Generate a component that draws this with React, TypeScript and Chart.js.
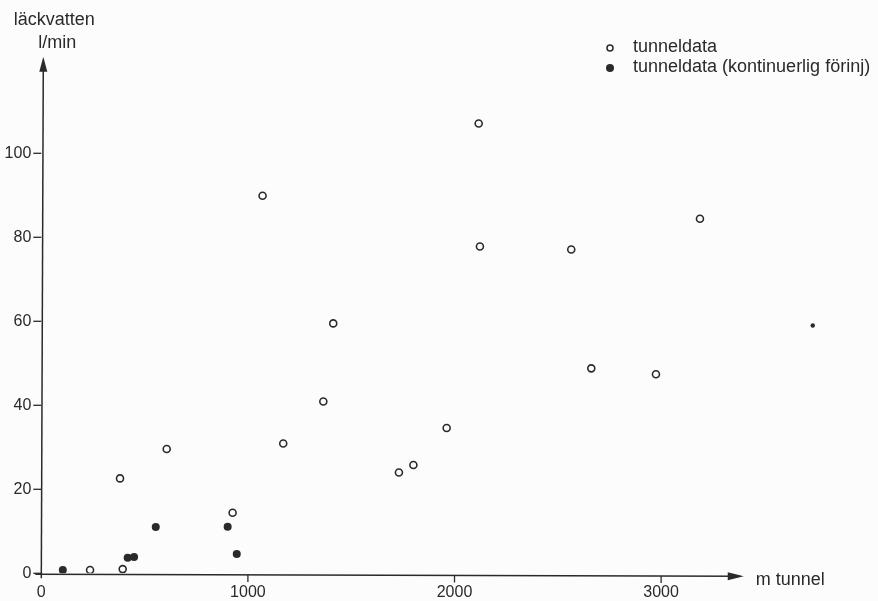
import React, { useEffect, useRef } from "react";
import { Chart, registerables } from "chart.js";

Chart.register(...registerables);

// m tunnel / l/min — open circles: tunneldata
const openX = [236, 394, 381, 607, 926, 1171, 1365, 1071, 1413, 2117, 2123, 1731, 1801, 1962, 2565, 3188, 2662, 2975];
const openY = [0.8, 1.0, 22.6, 29.6, 14.4, 30.9, 40.9, 89.9, 59.5, 107.1, 77.8, 24.0, 25.8, 34.6, 77.1, 84.4, 48.8, 47.4];

// filled circles: tunneldata (kontinuerlig förinj)
const filledX = [104, 418, 449, 554, 902, 946, 3734];
const filledY = [0.8, 3.7, 3.9, 11.0, 11.1, 4.6, 59.0];
const filledRadius = [4, 4, 4, 4, 4, 4, 2.2];

const xTicks = [0, 1000, 2000, 3000];
const yTicks = [0, 20, 40, 60, 80, 100];
const xTickLabels = ["0", "1000", "2000", "3000"];
const yTickLabels = ["0", "20", "40", "60", "80", "100"];

const seriesLabels = ["tunneldata", "tunneldata (kontinuerlig förinj)"];
const xTitle = "m tunnel";
const yTitleLines = ["läckvatten", "l/min"];

const INK = "#2a2a2a";
const FONT = "Liberation Sans, Arial, sans-serif";

export default function App() {
  const ref = useRef<HTMLCanvasElement | null>(null);

  useEffect(() => {
    document.body.style.margin = "0";
    document.body.style.background = "#fcfcfc";
    const canvas = ref.current;
    if (!canvas) return;

    const xAxisEnd = 3400;
    const yAxisEnd = 123;

    const axesPlugin = {
      id: "handAxes",
      beforeDraw(chart: any) {
        const { ctx, width, height } = chart;
        ctx.save();
        ctx.fillStyle = "#fcfcfc";
        ctx.fillRect(0, 0, width, height);
        ctx.restore();
      },
      beforeDatasetsDraw(chart: any) {
        const { ctx } = chart;
        const xs = chart.scales.x;
        const ys = chart.scales.y;
        const x0 = xs.getPixelForValue(0);
        const y0 = ys.getPixelForValue(0);
        const xEnd = xs.getPixelForValue(xAxisEnd);
        const yEnd = ys.getPixelForValue(yAxisEnd);
        ctx.save();
        ctx.strokeStyle = INK;
        ctx.fillStyle = INK;
        ctx.lineWidth = 1.5;
        // x axis
        ctx.beginPath();
        ctx.moveTo(x0 - 6, y0 + 1);
        ctx.lineTo(xEnd - 4, y0 + 3);
        ctx.stroke();
        ctx.beginPath();
        ctx.moveTo(xEnd, y0 + 3);
        ctx.lineTo(xEnd - 16, y0 - 1);
        ctx.lineTo(xEnd - 16, y0 + 7);
        ctx.closePath();
        ctx.fill();
        // y axis
        ctx.beginPath();
        ctx.moveTo(x0, y0 + 5);
        ctx.lineTo(x0 + 2, yEnd + 6);
        ctx.stroke();
        ctx.beginPath();
        ctx.moveTo(x0 + 2, yEnd);
        ctx.lineTo(x0 - 2, yEnd + 15);
        ctx.lineTo(x0 + 6, yEnd + 15);
        ctx.closePath();
        ctx.fill();
        // ticks
        ctx.lineWidth = 1.3;
        ctx.font = `16px ${FONT}`;
        ctx.textBaseline = "middle";
        yTicks.forEach((v, i) => {
          const py = ys.getPixelForValue(v);
          ctx.beginPath();
          ctx.moveTo(x0 - 8, py);
          ctx.lineTo(x0, py);
          ctx.stroke();
          ctx.textAlign = "right";
          ctx.fillText(yTickLabels[i], x0 - 10, py);
        });
        xTicks.forEach((v, i) => {
          const px = xs.getPixelForValue(v);
          const py = y0 + 1 + (v / xAxisEnd) * 2;
          if (v > 0) {
            ctx.beginPath();
            ctx.moveTo(px, py);
            ctx.lineTo(px, py + 7);
            ctx.stroke();
          }
          ctx.textAlign = "center";
          ctx.fillText(xTickLabels[i], px, y0 + 19);
        });
        // titles
        ctx.font = `18px ${FONT}`;
        ctx.textAlign = "left";
        ctx.fillText(xTitle, xEnd + 12, y0 + 7);
        ctx.textAlign = "center";
        ctx.fillText(yTitleLines[0], x0 + 13, 20);
        ctx.fillText(yTitleLines[1], x0 + 16, 43);
        ctx.restore();
      },
      afterDraw(chart: any) {
        const { ctx } = chart;
        ctx.save();
        ctx.font = `18px ${FONT}`;
        ctx.textAlign = "left";
        ctx.textBaseline = "middle";
        ctx.fillStyle = INK;
        ctx.strokeStyle = INK;
        const lx = 610;
        const rows = [48, 68];
        // open marker
        ctx.lineWidth = 1.5;
        ctx.beginPath();
        ctx.arc(lx, rows[0], 3, 0, Math.PI * 2);
        ctx.stroke();
        ctx.fillText(seriesLabels[0], lx + 23, rows[0] - 1);
        // filled marker
        ctx.beginPath();
        ctx.arc(lx, rows[1], 4, 0, Math.PI * 2);
        ctx.fill();
        ctx.fillText(seriesLabels[1], lx + 23, rows[1] - 1);
        ctx.restore();
      },
    };

    const chart = new Chart(canvas, {
      type: "scatter",
      data: {
        datasets: [
          {
            label: seriesLabels[0],
            data: openX.map((x, i) => ({ x, y: openY[i] })),
            pointRadius: 3.5,
            pointBorderWidth: 1.6,
            pointBackgroundColor: "#fcfcfc",
            pointBorderColor: INK,
          },
          {
            label: seriesLabels[1],
            data: filledX.map((x, i) => ({ x, y: filledY[i] })),
            pointRadius: filledRadius,
            pointBorderWidth: 0,
            pointBackgroundColor: INK,
            pointBorderColor: INK,
          },
        ],
      },
      options: {
        responsive: false,
        animation: false,
        layout: { padding: { left: 41.3, right: 51.6, top: 48.3, bottom: 27.7 } },
        plugins: { legend: { display: false }, tooltip: { enabled: false } },
        scales: {
          x: { type: "linear", min: 0, max: 3800, display: false },
          y: { type: "linear", min: 0, max: 125, display: false },
        },
      },
      plugins: [axesPlugin],
    });
    return () => chart.destroy();
  }, []);

  return (
    <div style={{ position: "absolute", left: 0, top: 0, width: 878, height: 601 }}>
      <canvas ref={ref} width={878} height={601} />
    </div>
  );
}
